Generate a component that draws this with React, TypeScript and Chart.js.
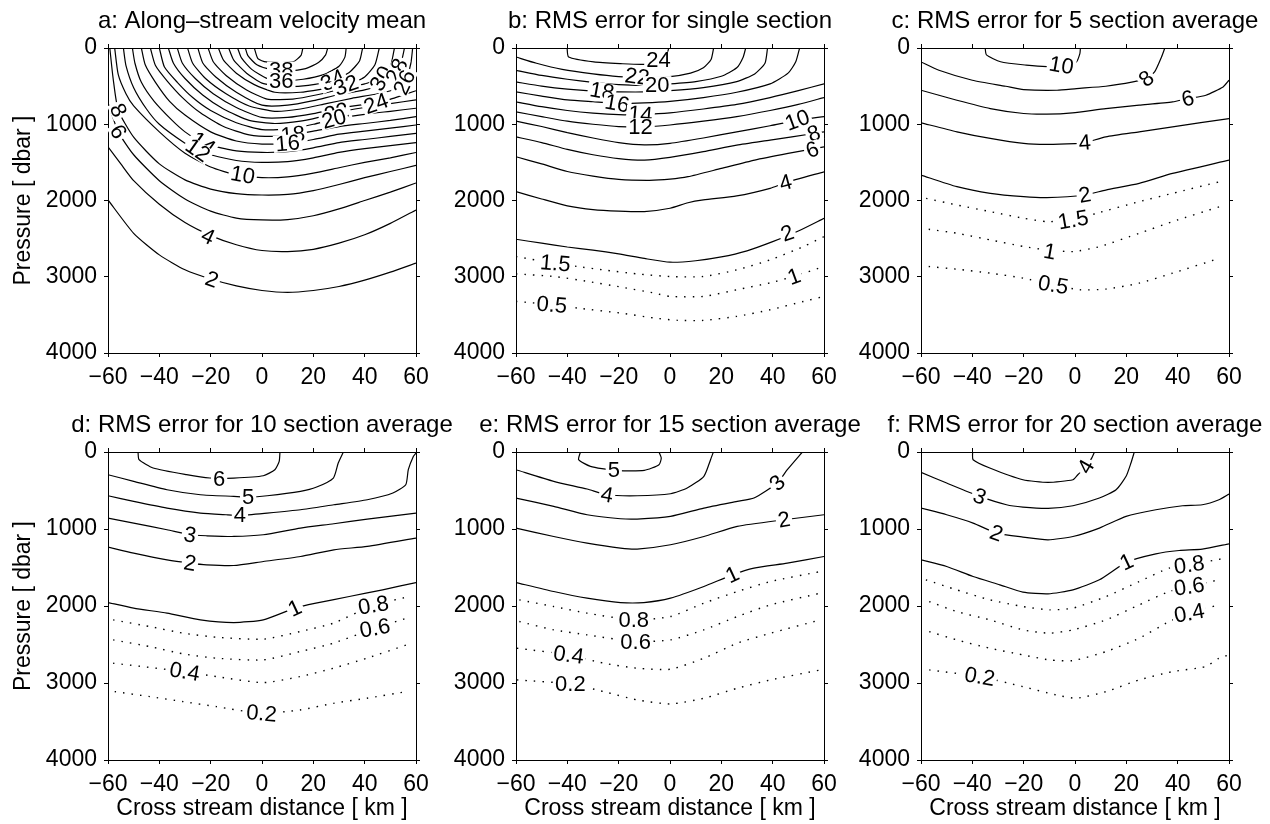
import React, { useEffect, useRef } from 'react';
import { Chart, registerables } from 'chart.js';
Chart.register(...registerables);

type Pt = [number, number];
type Lbl = [string, number, number, number];

const FONT = "'Liberation Sans', Arial, Helvetica, sans-serif";

const xTicks = [-60, -40, -20, 0, 20, 40, 60];
const yTicks = [0, 1000, 2000, 3000, 4000];
const xAxisTitle = 'Cross stream distance [ km ]';
const yAxisTitle = 'Pressure [ dbar ]';

// ---------- panel a ----------
const aTitle = 'a: Along–stream velocity mean';
const aSolid: Pt[][] = [
  [[-60,1993],[-50,2430],[-40,2713],[-30,2909],[-20,3030],[-10,3120],[0,3180],[10,3206],[20,3180],[30,3128],[40,3045],[50,2940],[60,2822]],
  [[-60,1295],[-55,1520],[-50,1740],[-40,2050],[-30,2290],[-20,2460],[-10,2580],[0,2656],[10,2670],[20,2640],[30,2560],[40,2450],[50,2300],[60,2124]],
  [[-60,720],[-56,1100],[-50,1400],[-40,1740],[-30,1980],[-20,2140],[-10,2230],[0,2255],[10,2250],[20,2200],[30,2110],[40,2000],[50,1890],[60,1770]],
  [[-59.3,0],[-58,400],[-56,816],[-50,1170],[-40,1520],[-30,1730],[-20,1850],[-10,1910],[0,1928],[10,1920],[20,1870],[30,1790],[40,1700],[50,1620],[60,1540]],
  [[-57.4,0],[-56,350],[-53,600],[-50,760],[-40,1100],[-30,1380],[-20,1560],[-10,1665],[0,1700],[10,1690],[20,1640],[30,1570],[40,1500],[50,1440],[60,1370]],
  [[-54,0],[-53,230],[-50,520],[-45,800],[-40,1000],[-30,1250],[-25,1340],[-20,1400],[-10,1475],[0,1500],[10,1490],[20,1440],[30,1370],[40,1320],[50,1280],[60,1240]],
  [[-50.5,0],[-49.5,200],[-47,450],[-42,700],[-35,950],[-30,1100],[-23,1252],[-20,1280],[-10,1350],[0,1370],[10,1360],[20,1310],[30,1240],[40,1200],[50,1160],[60,1120]],
  [[-47,0],[-45.5,220],[-41.5,450],[-36,700],[-30,880],[-20,1100],[-10,1220],[0,1260],[10,1250],[20,1200],[30,1130],[40,1090],[50,1050],[60,1010]],
  [[-43.5,0],[-41.5,230],[-37,430],[-31,650],[-24,850],[-15,1030],[-5,1140],[5,1160],[12,1135],[20,1090],[30,1030],[40,990],[50,950],[60,900]],
  [[-40,0],[-38,250],[-33,450],[-27,650],[-20,820],[-10,980],[0,1070],[10,1060],[20,1000],[28,930],[40,870],[50,830],[60,790]],
  [[-36.5,0],[-34.5,200],[-30,400],[-23,620],[-15,800],[-5,950],[5,990],[15,960],[22,910],[29,845],[40,780],[50,730],[60,680]],
  [[-33,0],[-31,200],[-26,400],[-19,600],[-10,780],[0,910],[10,910],[20,860],[30,790],[38,750],[44.4,730],[52,650],[60,560]],
  [[-29,0],[-27,200],[-22,400],[-14,600],[-5,760],[5,830],[15,800],[25,730],[35,660],[45,600],[52,540],[56,420],[58,200],[58.7,0]],
  [[-25,0],[-23,200],[-18,380],[-10,580],[0,750],[10,750],[20,690],[30,610],[40,550],[48,470],[52,320],[54.5,150],[55.5,0]],
  [[-21,0],[-19,180],[-14,360],[-6,550],[2,670],[12,670],[22,610],[32,530],[40,470],[46.5,400],[50,250],[51.6,0]],
  [[-17,0],[-15,160],[-10,330],[-3,480],[5,580],[15,580],[25,530],[33,488],[40,380],[44,220],[45.7,0]],
  [[-13,0],[-11,160],[-6,330],[0,460],[8,505],[18,490],[27.6,423],[34,320],[38,170],[39.2,0]],
  [[-9.5,0],[-8,130],[-4,280],[2,400],[8,425],[16,410],[24,350],[30,240],[32.3,120],[32.8,0]],
  [[-6.5,0],[-5.5,100],[-2,220],[4,285],[10,300],[17,270],[22,190],[24.8,90],[25.6,0]],
  [[-3,0],[-1.6,140],[1.6,183],[12,183],[15.2,96],[15.9,0]],
];
const aDotted: Pt[][] = [];
const aLabels: Lbl[] = [
  ['38', 7.5, 290, 0], ['36', 7.5, 430, 0], ['34', 27.6, 423, -25], ['32', 32.8, 490, -20],
  ['30', 46.5, 400, -60], ['28', 52.5, 300, -65], ['26', 55.5, 450, -65], ['24', 44.4, 730, -20],
  ['22', 29, 845, -15], ['20', 28, 930, -15], ['18', 12, 1135, -5], ['16', 10, 1250, -5],
  ['14', -23, 1252, 35], ['12', -25, 1340, 35], ['10', -7.5, 1665, 10], ['8', -56, 816, 65],
  ['6', -56, 1100, 60], ['4', -21, 2470, 25], ['2', -19.5, 3035, 20],
];

// ---------- panel b ----------
const bTitle = 'b: RMS error for single section';
const bSolid: Pt[][] = [
  [[-40.1,0],[-39.5,118],[-29.7,183],[-19.3,205],[-10.2,214],[-4,170],[-1,60],[-0.5,0]],
  [[-60,118],[-52,200],[-42,280],[-30,340],[-20,375],[-10,388],[0,375],[8,330],[13,260],[16,150],[17,0]],
  [[-60,292],[-50,360],[-40,410],[-30,450],[-20,480],[-10,490],[0,470],[10,440],[20,370],[26,260],[28.5,120],[29.5,0]],
  [[-60,445],[-50,500],[-40,540],[-30,565],[-20,575],[-10,576],[0,560],[13,520],[26,440],[33,340],[37,200],[38,0]],
  [[-60,576],[-50,630],[-40,680],[-30,705],[-20,728],[-10,720],[0,700],[13,650],[26,580],[39,470],[46,330],[49,180],[50.5,0]],
  [[-60,707],[-50,770],[-40,820],[-30,855],[-20,875],[-10,870],[0,850],[13,800],[26,740],[39,650],[50,560],[60,470]],
  [[-60,837],[-50,900],[-40,960],[-30,1000],[-20,1030],[-10,1034],[0,1010],[13,960],[26,900],[39,820],[50,740],[60,650]],
  [[-60,960],[-50,1030],[-40,1110],[-30,1180],[-20,1240],[-10,1270],[0,1250],[13,1180],[26,1100],[39,1020],[50,946],[60,900]],
  [[-60,1165],[-50,1240],[-40,1330],[-30,1400],[-20,1450],[-10,1470],[0,1435],[13,1360],[26,1274],[39,1208],[56,1121],[60,1100]],
  [[-60,1426],[-50,1520],[-40,1620],[-30,1680],[-20,1723],[-8,1735],[0,1720],[7,1688],[20,1579],[33,1470],[46,1383],[60,1296]],
  [[-60,1884],[-50,1980],[-40,2070],[-30,2120],[-20,2140],[-10,2146],[0,2102],[7,2030],[13,1993],[26,1940],[39,1840],[45,1766],[60,1623]],
  [[-60,2508],[-50,2560],[-40,2610],[-30,2650],[-20,2700],[-10,2760],[0,2809],[10,2790],[20,2740],[30,2660],[40,2540],[50,2400],[60,2233]],
];
const bDotted: Pt[][] = [
  [[-60,2735],[-45,2822],[-36,2866],[-26,2910],[-13,2962],[0,2997],[13,2997],[26,2910],[39,2779],[52,2604],[60,2473]],
  [[-60,2962],[-45,2997],[-32,3062],[-19,3136],[-6,3215],[0,3258],[13,3258],[26,3171],[39,3080],[48,2997],[60,2866]],
  [[-60,3324],[-45,3367],[-36,3411],[-19,3477],[-6,3542],[3,3572],[13,3572],[26,3520],[39,3433],[52,3324],[60,3258]],
];
const bLabels: Lbl[] = [
  ['24', -4.5, 160, 0], ['22', -12.8, 375, 8], ['20', -5, 480, 0], ['18', -26.5, 565, 10],
  ['16', -20.6, 728, 10], ['14', -11.5, 870, 5], ['12', -11.5, 1034, 0], ['10', 49.6, 946, -20],
  ['8', 56, 1121, -20], ['6', 55.5, 1335, -20], ['4', 45, 1766, -15], ['2', 45.7, 2430, -20],
  ['1.5', -44.7, 2822, 5], ['1', 48.3, 2997, -20], ['0.5', -46, 3367, 5],
];

// ---------- panel c ----------
const cTitle = 'c: RMS error for 5 section average';
const cSolid: Pt[][] = [
  [[-35,0],[-34.5,90],[-29,180],[-19,225],[-11,245],[-5,235],[0.5,185],[1.9,74],[2.1,0]],
  [[-60,183],[-53,292],[-40,423],[-27,502],[-20,545],[-7,554],[0.6,532],[12,502],[22.6,445],[27.8,401],[31,314],[33.7,118],[35,0]],
  [[-60,554],[-46,685],[-33,794],[-20,859],[-11,868],[-1,851],[12,794],[25,750],[38,707],[44,663],[51,619],[57.7,510],[60,423]],
  [[-60,981],[-46,1099],[-33,1186],[-20,1252],[-11,1265],[0,1255],[3.8,1243],[12,1165],[25,1099],[38,1034],[60,925]],
  [[-60,1666],[-46,1819],[-33,1906],[-20,1950],[-11,1963],[3.8,1928],[12,1863],[25,1775],[38,1645],[60,1470]],
];
const cDotted: Pt[][] = [
  [[-58,1972],[-46,2059],[-33,2146],[-20,2233],[-11,2277],[-0.7,2255],[8.4,2168],[25,2015],[38,1906],[56.4,1753]],
  [[-57,2377],[-46,2430],[-33,2517],[-20,2604],[-11,2648],[-0.7,2670],[9.7,2604],[25,2430],[38,2277],[56.4,2081]],
  [[-57,2866],[-46,2901],[-33,2953],[-20,3019],[-8.5,3106],[1.9,3171],[12,3162],[25,3084],[38,2953],[56.4,2757]],
];
const cLabels: Lbl[] = [
  ['10', -5.3, 227, 10], ['8', 27.8, 401, -40], ['6', 44, 663, -15], ['4', 3.8, 1243, -5],
  ['2', 3.8, 1928, -10], ['1.5', -0.7, 2255, -10], ['1', -9.8, 2670, 10], ['0.5', -8.5, 3106, 10],
];

// ---------- panel d ----------
const dTitle = 'd: RMS error for 10 section average';
const dSolid: Pt[][] = [
  [[-48.3,0],[-47.9,100],[-42.4,208],[-29.4,295],[-20.3,338],[-11,338],[0.5,308],[5,230],[6.7,121],[7,0]],
  [[-60,295],[-50,381],[-37,490],[-24,555],[-11,576],[-5.4,585],[2,568],[15,511],[21.3,455],[27.8,338],[29.7,143],[31.7,0]],
  [[-60,568],[-50,641],[-37,728],[-24,793],[-14,815],[-8.6,823],[2,793],[15,750],[28,685],[41,620],[51,533],[56,425],[57,230],[59,56],[60,13]],
  [[-60,858],[-50,923],[-37,1010],[-28,1075],[-21.6,1088],[-11,1097],[0.5,1075],[15,988],[28,932],[41,871],[60,793]],
  [[-60,1235],[-50,1313],[-37,1400],[-28,1443],[-21.6,1465],[-11,1474],[0.5,1422],[15,1357],[28,1270],[41,1226],[60,1118]],
  [[-60,1955],[-50,2028],[-37,2093],[-24,2180],[-11,2215],[0.5,2180],[12.8,2028],[21,1963],[34,1877],[47,1790],[60,1695]],
];
const dDotted: Pt[][] = [
  [[-58,2180],[-43.7,2267],[-30.7,2353],[-17.7,2405],[0.5,2431],[14.8,2332],[27.8,2223],[43.4,1990],[56.4,1885]],
  [[-58,2440],[-43.7,2527],[-30.7,2622],[-17.7,2678],[0.5,2700],[14.8,2592],[27.8,2483],[44,2288],[56.4,2158]],
  [[-58,2743],[-30.1,2852],[-17.7,2917],[0.5,2995],[14.8,2917],[27.8,2808],[40.8,2678],[56.4,2505]],
  [[-57.4,3112],[-43.7,3177],[-30.7,3242],[-17.7,3307],[-0.2,3394],[14.8,3350],[27.8,3264],[40.8,3198],[56.4,3112]],
];
const dLabels: Lbl[] = [
  ['6', -16.7, 351, 0], ['5', -5.4, 580, 0], ['4', -8.6, 823, 0], ['3', -28.1, 1075, 10],
  ['2', -28.1, 1443, 10], ['1', 12.8, 2028, -25], ['0.8', 43.4, 1990, -10], ['0.6', 44, 2288, -10],
  ['0.4', -30.1, 2852, 10], ['0.2', -0.2, 3394, 5],
];

// ---------- panel e ----------
const eTitle = 'e: RMS error for 15 section average';
const eSolid: Pt[][] = [
  [[-34.9,0],[-35.6,100],[-31,186],[-22,238],[-10,238],[-4.3,165],[-3.4,78],[-4.3,0]],
  [[-60,230],[-45.3,381],[-32.3,481],[-24.5,555],[-12.8,568],[0.2,542],[6.7,468],[13.2,316],[15.8,100],[16.9,0]],
  [[-60,598],[-45.3,706],[-32.3,815],[-19.3,867],[-12.8,871],[0.2,836],[13.2,728],[26.2,641],[32.7,598],[41.8,403],[45.7,230],[51.6,0]],
  [[-60,988],[-45.3,1097],[-32.3,1183],[-19.3,1248],[-12.8,1261],[0.2,1205],[13.2,1097],[26.2,966],[44.4,880],[60,815]],
  [[-60,1695],[-45.3,1812],[-32.3,1898],[-19.3,1955],[-10.2,1955],[0.2,1898],[13.2,1747],[24.3,1595],[32.7,1508],[45.7,1443],[60,1357]],
];
const eDotted: Pt[][] = [
  [[-58.7,1920],[-45.3,2007],[-32.3,2093],[-14.1,2180],[0.2,2137],[13.2,1963],[26.2,1812],[39.2,1682],[58.7,1552]],
  [[-58.7,2202],[-45.3,2310],[-32.3,2375],[-13.4,2462],[0.2,2440],[13.2,2310],[26.2,2137],[39.2,1985],[58.7,1833]],
  [[-59.6,2548],[-39.5,2635],[-25.8,2743],[-12.8,2808],[0.2,2821],[13.2,2678],[26.2,2483],[39.2,2353],[58.7,2180]],
  [[-59.6,2960],[-38.8,3012],[-25.8,3112],[-12.8,3220],[0.2,3272],[13.2,3198],[26.2,3068],[39.2,2960],[58.7,2830]],
];
const eLabels: Lbl[] = [
  ['5', -21.9, 238, 0], ['4', -24.5, 555, 10], ['3', 41.8, 403, -45], ['2', 44.4, 880, -10],
  ['1', 24.3, 1595, -25], ['0.8', -14.1, 2180, 0], ['0.6', -13.4, 2462, 0], ['0.4', -39.5, 2635, 8],
  ['0.2', -38.8, 3012, 0],
];

// ---------- panel f ----------
const fTitle = 'f: RMS error for 20 section average';
const fSolid: Pt[][] = [
  [[-39.9,0],[-39.7,100],[-33.2,208],[-20.3,360],[-10.5,394],[-0.8,360],[1.1,295],[4.3,190],[6.5,80],[7.6,0]],
  [[-60,264],[-50,403],[-37.1,576],[-26.7,685],[-20.3,715],[-10.5,732],[-0.8,698],[9.5,598],[16,490],[19.9,316],[21.8,143],[23.1,0]],
  [[-60,728],[-50,815],[-39.7,923],[-30.6,1053],[-20.3,1105],[-10.5,1140],[-0.8,1097],[9.5,988],[19.9,836],[31.5,750],[41.9,698],[49.6,685],[56.1,620],[60,546]],
  [[-60,1400],[-50,1487],[-39.7,1617],[-29.3,1725],[-20.3,1820],[-10.5,1842],[-0.8,1790],[9.5,1660],[20.1,1430],[31.5,1322],[40.6,1279],[49.6,1261],[60,1192]],
];
const fDotted: Pt[][] = [
  [[-58.1,1660],[-46.1,1790],[-33.2,1920],[-20.3,2007],[-9.9,2050],[-0.8,2028],[12.1,1877],[25,1682],[36.7,1508],[44.5,1465],[58.7,1378]],
  [[-56.8,1942],[-46.1,2072],[-33.2,2180],[-20.3,2310],[-9.9,2353],[-0.8,2310],[12.1,2180],[25,1985],[36.7,1812],[44.5,1747],[56.1,1660]],
  [[-56.8,2332],[-46.1,2440],[-33.2,2548],[-20.3,2635],[-9.9,2700],[-0.8,2709],[12.1,2592],[25,2418],[36.7,2202],[44.5,2093],[56.1,1985]],
  [[-56.8,2830],[-37.1,2917],[-20.3,3047],[-7.3,3155],[0.5,3198],[12.1,3112],[25,2960],[38,2852],[50.9,2787],[56.1,2678],[60,2635]],
];
const fLabels: Lbl[] = [
  ['4', 4.3, 190, -60], ['3', -37.1, 576, 20], ['2', -30.6, 1053, 20], ['1', 20.1, 1430, -25],
  ['0.8', 44.5, 1465, -8], ['0.6', 44.5, 1747, -8], ['0.4', 44.5, 2093, -10], ['0.2', -37.1, 2917, 10],
];

type Spec = { title: string; solid: Pt[][]; dotted: Pt[][]; labels: Lbl[] };
const panels: Spec[] = [
  { title: aTitle, solid: aSolid, dotted: aDotted, labels: aLabels },
  { title: bTitle, solid: bSolid, dotted: bDotted, labels: bLabels },
  { title: cTitle, solid: cSolid, dotted: cDotted, labels: cLabels },
  { title: dTitle, solid: dSolid, dotted: dDotted, labels: dLabels },
  { title: eTitle, solid: eSolid, dotted: eDotted, labels: eLabels },
  { title: fTitle, solid: fSolid, dotted: fDotted, labels: fLabels },
];

// layout
const COL_LEFT = [0, 408, 813];
const ROW_TOP = [0, 404];
const ROW_H = [404, 420];
const PLOT_H = [305, 308];
const CANVAS_W = 524;
const SIDE = 108;
const TOP_H = 48;
const X2_H = 5;

function makeLabelPlugin(labels: Lbl[]) {
  return {
    id: 'contourLabels',
    afterDatasetsDraw(chart: any) {
      const { ctx, scales } = chart;
      ctx.save();
      ctx.font = `22px ${FONT}`;
      ctx.textAlign = 'center';
      ctx.textBaseline = 'middle';
      for (const [t, x, p, ang] of labels) {
        const px = scales.x.getPixelForValue(x);
        const py = scales.y.getPixelForValue(p);
        ctx.save();
        ctx.translate(px, py);
        ctx.rotate((ang * Math.PI) / 180);
        const w = ctx.measureText(t).width;
        ctx.fillStyle = '#fff';
        ctx.fillRect(-w / 2 - 2, -8.5, w + 4, 17);
        ctx.fillStyle = '#000';
        ctx.fillText(t, 0, 1);
        ctx.restore();
      }
      ctx.restore();
    },
  };
}

function Panel({ spec, row, col }: { spec: Spec; row: number; col: number }) {
  const ref = useRef<HTMLCanvasElement>(null);
  const h = ROW_H[row];
  const xH = h - TOP_H - PLOT_H[row];
  const showY = col === 0;
  const showX = row === 1;
  useEffect(() => {
    const tickFont = { family: FONT, size: 23 };
    const solid = spec.solid.map((path) => ({
      data: path.map(([x, y]) => ({ x, y })),
      borderColor: '#000',
      borderWidth: 1.2,
      pointRadius: 0,
      showLine: true,
      tension: 0.2,
      fill: false,
    }));
    const dotted = spec.dotted.map((path) => ({
      data: path.map(([x, y]) => ({ x, y })),
      borderColor: '#000',
      borderWidth: 1.4,
      borderDash: [1.5, 7],
      pointRadius: 0,
      showLine: true,
      tension: 0.2,
      fill: false,
    }));
    const gridOpts = { drawOnChartArea: false, drawTicks: true, tickLength: 4, color: '#000', lineWidth: 1 };
    const borderOpts = { display: true, color: '#000', width: 1 };
    const setX = (s: any) => { s.ticks = xTicks.map((v) => ({ value: v })); };
    const setY = (s: any) => { s.ticks = yTicks.map((v) => ({ value: v })); };
    const fmt = (v: any) => (Number(v) < 0 ? '\u2212' + Math.abs(Number(v)) : String(v));
    const chart = new Chart(ref.current as HTMLCanvasElement, {
      type: 'scatter',
      data: { datasets: [...solid, ...dotted] as any },
      options: {
        animation: false,
        responsive: false,
        maintainAspectRatio: false,
        devicePixelRatio: 1,
        layout: { padding: 0 },
        events: [],
        plugins: {
          legend: { display: false },
          tooltip: { enabled: false },
          title: {
            display: true,
            text: spec.title,
            color: '#000',
            font: { family: FONT, size: 24, weight: 'normal' },
            padding: { top: 6.6, bottom: TOP_H - X2_H - 24 * 1.2 - 6.6 },
          },
        },
        scales: {
          x: {
            type: 'linear', position: 'bottom', min: -60, max: 60,
            afterBuildTicks: setX,
            ticks: { color: '#000', font: tickFont, padding: 7, maxRotation: 0, autoSkip: false, callback: fmt },
            grid: gridOpts, border: borderOpts,
            title: { display: showX, text: xAxisTitle, color: '#000', font: tickFont, padding: { top: 0, bottom: 1.5 } },
            afterFit: (s: any) => { s.height = xH; },
          },
          x2: {
            type: 'linear', position: 'top', min: -60, max: 60,
            afterBuildTicks: setX,
            ticks: { display: false },
            grid: gridOpts, border: borderOpts,
            afterFit: (s: any) => { s.height = X2_H; },
          },
          y: {
            type: 'linear', position: 'left', min: 0, max: 4000, reverse: true,
            afterBuildTicks: setY,
            ticks: { color: '#000', font: tickFont, padding: 7, callback: fmt },
            grid: gridOpts, border: borderOpts,
            title: { display: showY, text: yAxisTitle, color: '#000', font: tickFont, padding: { top: 10, bottom: 0 } },
            afterFit: (s: any) => { s.width = SIDE; },
          },
          y2: {
            type: 'linear', position: 'right', min: 0, max: 4000, reverse: true,
            afterBuildTicks: setY,
            ticks: { display: false },
            grid: gridOpts, border: borderOpts,
            afterFit: (s: any) => { s.width = SIDE; },
          },
        },
      } as any,
      plugins: [makeLabelPlugin(spec.labels)],
    });
    return () => chart.destroy();
  }, []);
  return (
    <canvas
      ref={ref}
      width={CANVAS_W}
      height={h}
      style={{ position: 'absolute', left: COL_LEFT[col], top: ROW_TOP[row], width: CANVAS_W, height: h, display: 'block' }}
    />
  );
}

export default function App() {
  return (
    <div style={{ position: 'fixed', left: 0, top: 0, width: 1270, height: 824, overflow: 'hidden', background: '#fff' }}>
      {panels.map((p, i) => (
        <Panel key={i} spec={p} row={Math.floor(i / 3)} col={i % 3} />
      ))}
    </div>
  );
}
